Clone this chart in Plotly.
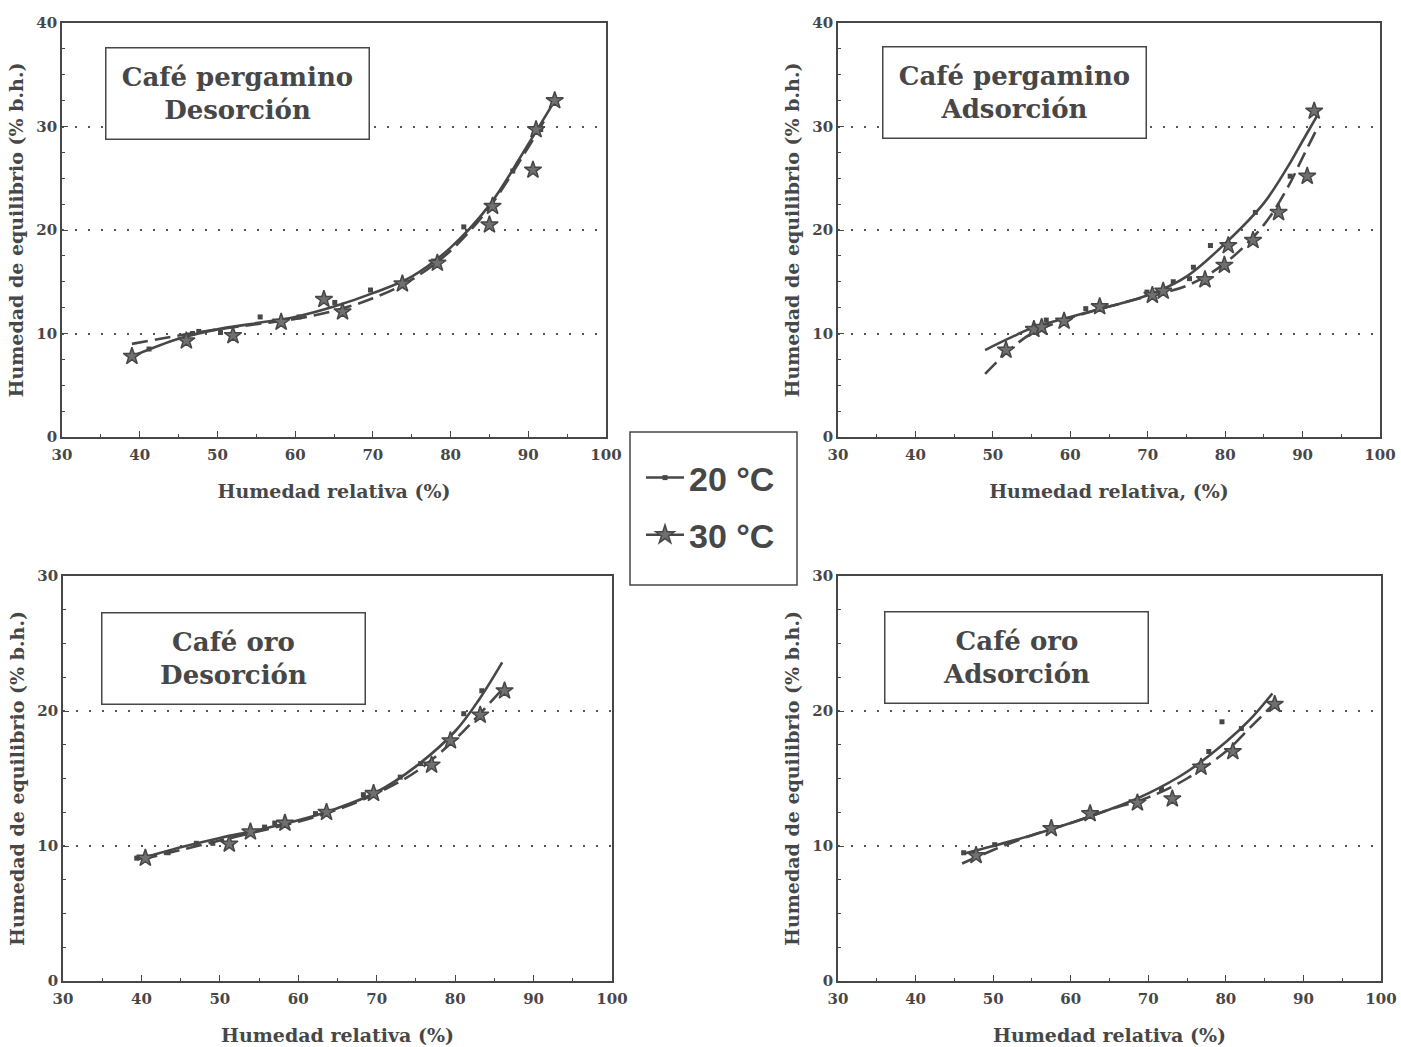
import plotly.graph_objects as go

# ---------------- data ----------------
# Panel A: Café pergamino – Desorción
pd_x20 = [41.2, 46.8, 47.6, 50.4, 55.5, 60.5, 65.1, 69.7, 77.8, 81.7, 88.0, 91.6]
pd_y20 = [8.5, 10.0, 10.2, 10.1, 11.6, 11.6, 13.0, 14.2, 17.0, 20.3, 25.7, 29.7]
pd_x30 = [39.0, 46.0, 52.0, 58.2, 63.7, 66.1, 73.8, 78.3, 85.0, 85.4, 90.6, 91.0, 93.4]
pd_y30 = [7.8, 9.3, 9.8, 11.1, 13.3, 12.1, 14.8, 16.8, 20.5, 22.3, 25.8, 29.7, 32.5]
pd_cx20 = [39, 45, 50, 55, 60, 65, 70, 75, 80, 85, 90, 93]
pd_cy20 = [7.8, 9.5, 10.4, 11.0, 11.6, 12.6, 13.9, 15.5, 18.3, 22.4, 28.3, 32.0]
pd_cx30 = [39, 45, 50, 55, 60, 65, 70, 75, 80, 85, 90, 92]
pd_cy30 = [9.0, 9.8, 10.4, 10.9, 11.4, 12.2, 13.4, 15.2, 18.0, 22.2, 28.0, 30.5]

# Panel B: Café pergamino – Adsorción
pa_x20 = [56.9, 62.0, 69.9, 73.3, 75.4, 75.9, 78.1, 83.9, 88.4, 91.8]
pa_y20 = [11.3, 12.4, 14.0, 15.0, 15.3, 16.4, 18.5, 21.7, 25.2, 31.5]
pa_x30 = [51.7, 55.3, 56.3, 59.2, 63.8, 70.6, 72.0, 77.4, 79.9, 80.4, 83.6, 86.9, 90.6, 91.5]
pa_y30 = [8.4, 10.4, 10.6, 11.2, 12.6, 13.7, 14.1, 15.2, 16.6, 18.5, 19.0, 21.7, 25.2, 31.5]
pa_cx20 = [49, 52, 55, 60, 65, 70, 75, 80, 85, 88, 90, 92]
pa_cy20 = [8.4, 9.5, 10.5, 11.6, 12.6, 13.7, 15.5, 18.7, 22.6, 26.0, 28.6, 31.2]
pa_cx30 = [49, 52, 55, 60, 65, 70, 75, 80, 85, 88, 90, 92]
pa_cy30 = [6.1, 8.3, 10.0, 11.5, 12.6, 13.6, 14.6, 16.8, 20.5, 24.0, 27.0, 30.0]

# Panel C: Café oro – Desorción
od_x20 = [39.4, 43.4, 47.0, 49.1, 55.7, 57.0, 62.2, 68.3, 73.0, 75.6, 81.1, 83.4]
od_y20 = [9.1, 9.5, 10.2, 10.2, 11.4, 11.7, 12.4, 13.8, 15.1, 16.1, 19.8, 21.5]
od_x30 = [40.5, 51.2, 53.9, 58.3, 63.6, 69.6, 77.0, 79.4, 83.2, 86.3]
od_y30 = [9.1, 10.15, 11.05, 11.7, 12.5, 13.9, 16.0, 17.8, 19.7, 21.5]
od_cx20 = [39.5, 45, 50, 55, 60, 65, 70, 75, 80, 83, 86]
od_cy20 = [9.0, 9.9, 10.6, 11.2, 11.9, 12.8, 14.0, 15.9, 18.5, 20.8, 23.6]
od_cx30 = [40, 45, 50, 55, 60, 65, 70, 75, 80, 83, 86]
od_cy30 = [9.0, 9.7, 10.4, 11.1, 11.8, 12.7, 13.9, 15.5, 17.9, 19.7, 21.6]

# Panel D: Café oro – Adsorción
oa_x20 = [46.2, 50.2, 62.3, 68.2, 71.7, 77.8, 79.5, 82.0]
oa_y20 = [9.5, 10.1, 12.5, 13.3, 14.2, 17.0, 19.2, 18.7]
oa_x30 = [47.8, 57.5, 62.5, 68.6, 73.1, 76.8, 80.9, 86.3]
oa_y30 = [9.3, 11.3, 12.4, 13.2, 13.5, 15.85, 17.0, 20.5]
oa_cx20 = [46, 50, 55, 60, 65, 70, 75, 80, 83, 86]
oa_cy20 = [9.4, 10.0, 10.8, 11.7, 12.7, 13.9, 15.5, 17.7, 19.3, 21.3]
oa_cx30 = [46, 50, 55, 60, 65, 70, 75, 80, 83, 86.5]
oa_cy30 = [8.7, 9.7, 10.8, 11.7, 12.7, 13.6, 15.0, 17.0, 18.7, 20.7]

panel_titles = ["<b>Café pergamino<br>Desorción</b>", "<b>Café pergamino<br>Adsorción</b>",
                "<b>Café oro<br>Desorción</b>", "<b>Café oro<br>Adsorción</b>"]
x_titles = ["<b>Humedad relativa (%)</b>", "<b>Humedad relativa, (%)</b>",
            "<b>Humedad relativa (%)</b>", "<b>Humedad relativa (%)</b>"]
y_title = "<b>Humedad de equilibrio (% b.h.)</b>"
legend_names = ["<b>20 °C</b>", "<b>30 °C</b>"]
y_max = [40, 40, 30, 30]

panels = [
    (pd_x20, pd_y20, pd_x30, pd_y30, pd_cx20, pd_cy20, pd_cx30, pd_cy30),
    (pa_x20, pa_y20, pa_x30, pa_y30, pa_cx20, pa_cy20, pa_cx30, pa_cy30),
    (od_x20, od_y20, od_x30, od_y30, od_cx20, od_cy20, od_cx30, od_cy30),
    (oa_x20, oa_y20, oa_x30, oa_y30, oa_cx20, oa_cy20, oa_cx30, oa_cy30),
]

# ---------------- layout geometry (pixels) ----------------
W, H = 1401, 1047
boxes_px = [(62, 606, 23, 437), (838, 1380, 23, 437), (63, 612, 576, 981), (838, 1381, 576, 981)]
ann_px = [(238, 93), (1015, 92), (233, 658), (1016, 657)]
legend_box_px = (630, 797, 432, 585)

INK = "#474747"
SERIF = "DejaVu Serif"

fig = go.Figure()
for i, (x20, y20, x30, y30, cx20, cy20, cx30, cy30) in enumerate(panels):
    xa = "x" if i == 0 else f"x{i+1}"
    ya = "y" if i == 0 else f"y{i+1}"
    fig.add_trace(go.Scatter(x=cx20, y=cy20, mode="lines", line=dict(color=INK, width=2.6, shape="spline"),
                             xaxis=xa, yaxis=ya, showlegend=False, hoverinfo="skip"))
    fig.add_trace(go.Scatter(x=cx30, y=cy30, mode="lines",
                             line=dict(color=INK, width=2.6, shape="spline", dash="16px,7px"),
                             xaxis=xa, yaxis=ya, showlegend=False, hoverinfo="skip"))
    fig.add_trace(go.Scatter(x=x20, y=y20, mode="markers", marker=dict(symbol="square", size=5, color=INK),
                             xaxis=xa, yaxis=ya, showlegend=False))
    fig.add_trace(go.Scatter(x=x30, y=y30, mode="markers",
                             marker=dict(symbol="star", size=13, color="#707070", line=dict(color=INK, width=1.5)),
                             xaxis=xa, yaxis=ya, showlegend=False))

# legend entries
fig.add_trace(go.Scatter(x=[None], y=[None], mode="lines+markers", name=legend_names[0],
                         line=dict(color=INK, width=2.5), marker=dict(symbol="square", size=5, color=INK),
                         legendgroup="a"))
fig.add_trace(go.Scatter(x=[None], y=[None], mode="lines+markers", name=legend_names[1],
                         line=dict(color=INK, width=2.5),
                         marker=dict(symbol="star", size=14, color="#707070", line=dict(color=INK, width=1.5)),
                         legendgroup="b"))

lx0, lx1, ly0, ly1 = legend_box_px
layout = dict(width=W, height=H, margin=dict(l=0, r=0, t=0, b=0, autoexpand=False), autosize=False,
              paper_bgcolor="white", plot_bgcolor="white",
              font=dict(family=SERIF, color=INK, size=14),
              legend=dict(x=641 / W, y=1 - 449 / H, xanchor="left", yanchor="top",
                          borderwidth=0, bgcolor="rgba(0,0,0,0)",
                          font=dict(family="Liberation Sans", size=34, color=INK),
                          tracegroupgap=10, itemwidth=38),
              shapes=[dict(type="rect", xref="paper", yref="paper",
                           x0=lx0 / W, x1=lx1 / W, y0=1 - ly1 / H, y1=1 - ly0 / H,
                           line=dict(color=INK, width=1.5), fillcolor="rgba(0,0,0,0)", layer="below")])
annotations = []
for i, (x0, x1, y0, y1) in enumerate(boxes_px):
    sfx = "" if i == 0 else str(i + 1)
    common = dict(showline=True, linecolor=INK, linewidth=1.6, mirror=True, automargin=False,
                  ticks="inside", ticklen=6, tickcolor=INK, zeroline=False,
                  tickfont=dict(family=SERIF, size=15, color=INK, weight="bold"))
    layout["xaxis" + sfx] = dict(domain=[x0 / W, x1 / W], range=[30, 100], dtick=10, tick0=30,
                                 showgrid=False, anchor="y" + sfx, ticklabelstandoff=3,
                                 minor=dict(dtick=5, ticks="inside", ticklen=3, tickcolor=INK),
                                 title=dict(text=x_titles[i], font=dict(family=SERIF, size=19, color=INK), standoff=22),
                                 **common)
    layout["yaxis" + sfx] = dict(domain=[1 - y1 / H, 1 - y0 / H], range=[0, y_max[i]], dtick=10,
                                 showgrid=True, gridcolor="#555555", griddash="2px,11px", gridwidth=1.5,
                                 anchor="x" + sfx,
                                 minor=dict(dtick=2.5, ticks="inside", ticklen=3, tickcolor=INK),
                                 title=dict(text=y_title, font=dict(family=SERIF, size=19, color=INK), standoff=8),
                                 **common)
    cx, cy = ann_px[i]
    annotations.append(dict(text=panel_titles[i], xref="paper", yref="paper", x=cx / W, y=1 - cy / H,
                            xanchor="center", yanchor="middle", showarrow=False,
                            font=dict(family=SERIF, size=26, color=INK),
                            bordercolor=INK, borderwidth=1.5, borderpad=2, bgcolor="white",
                            width=258, height=86))
layout["annotations"] = annotations
fig.update_layout(**layout)
fig.write_html("out.html", config={"displayModeBar": False},
               post_script="document.body.style.margin='0';document.body.style.padding='0';")
